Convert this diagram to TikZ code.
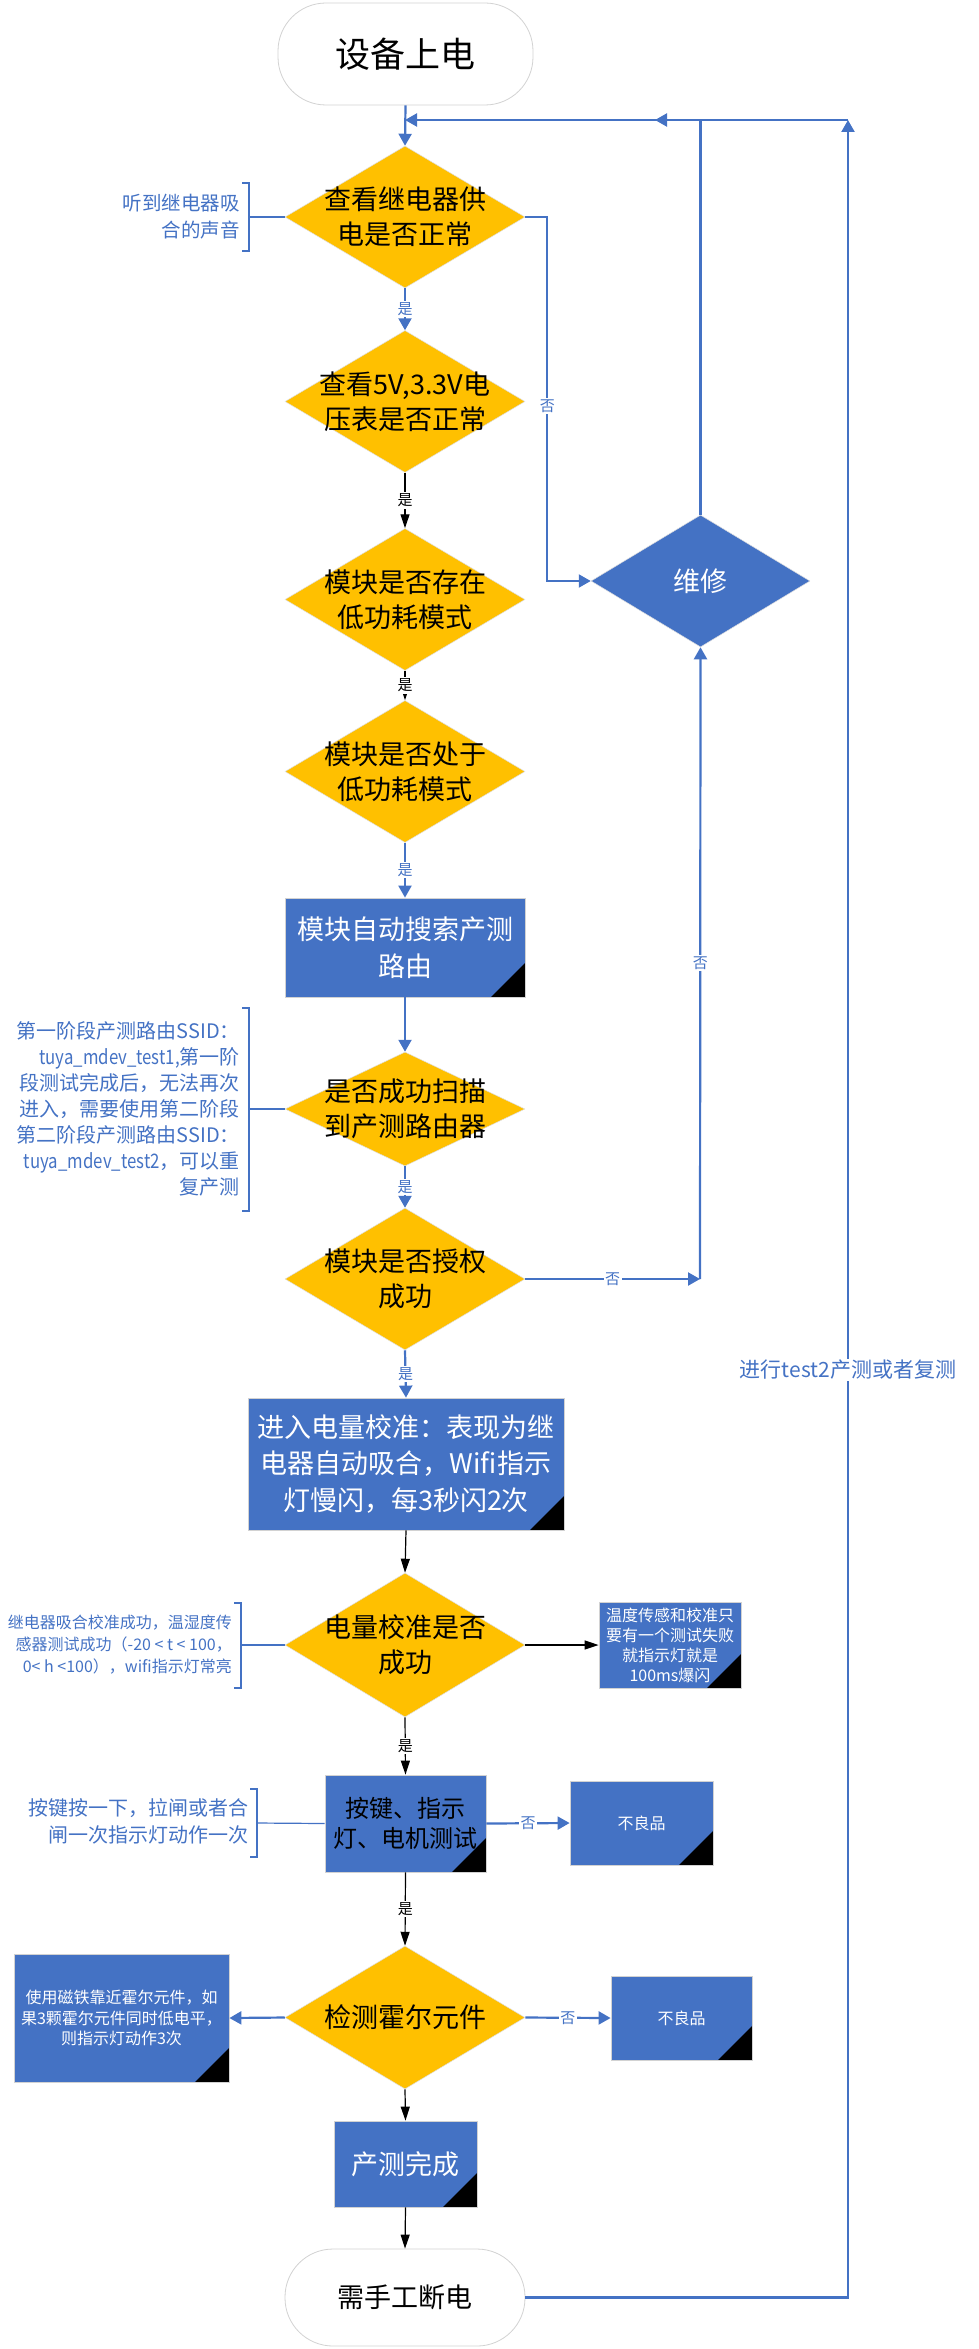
\documentclass[tikz,border=0pt]{standalone}
\usepackage{fontspec}
\setmainfont{Noto Sans CJK SC}
\newfontfamily\narrowfont[FakeStretch=0.84]{Noto Sans CJK SC}
\usetikzlibrary{shapes.geometric, arrows.meta, positioning}

\definecolor{boxblue}{HTML}{4472C4}
\definecolor{diayellow}{HTML}{FFC000}

\tikzset{
  decision/.style={diamond, fill=diayellow, draw=gray!25, line width=0.5pt, aspect=1.7,
    minimum width=240pt, minimum height=142pt, inner sep=-18pt, align=center,
    font=\fontsize{27}{35}\selectfont},
  docbox/.style={rectangle, fill=boxblue, draw=gray!35, line width=0.8pt, text=white, align=center,
    path picture={\fill[black] ([xshift=-34pt]path picture bounding box.south east)
      -- (path picture bounding box.south east)
      -- ([yshift=34pt]path picture bounding box.south east) -- cycle;}},
  terminal/.style={rectangle, rounded corners=48pt, draw=gray!35, line width=0.8pt, fill=white, align=center},
  bline/.style={draw=boxblue, line width=2.2pt, -{Triangle[width=13pt,length=12pt]}},
  kline/.style={draw=black, line width=1.2pt, -{Triangle[width=9pt,length=14pt]}},
  ylabel/.style={fill=white, inner sep=1.5pt, text=boxblue, font=\fontsize{15}{15}\selectfont},
  note/.style={text=boxblue, align=right, anchor=east, inner sep=0pt},
  notebrk/.style={draw=boxblue, line width=1.2pt},
}

\begin{document}
\begin{tikzpicture}[x=1pt, y=-1pt]
  \useasboundingbox (0,0) rectangle (978,2349);

  % start and end
  \node[terminal, minimum width=255pt, minimum height=102pt, font=\fontsize{35}{40}\selectfont] (start) at (405.5,54) {设备上电};
  \node[terminal, minimum width=240pt, minimum height=97pt, font=\fontsize{27}{32}\selectfont] (stop) at (405,2297.5) {需手工断电};

  % main column
  \node[decision] (d1) at (405,217) {查看继电器供\\电是否正常};
  \node[decision] (d2) at (405,401.5) {查看5V,3.3V电\\压表是否正常};
  \node[decision] (d3) at (405,599.5) {模块是否存在\\低功耗模式};
  \node[decision] (d4) at (405,771.5) {模块是否处于\\低功耗模式};
  \node[docbox, minimum width=240pt, minimum height=99pt, font=\fontsize{27}{37}\selectfont] (search) at (405,947.5) {模块自动搜索产测\\路由};
  \node[decision, minimum height=114pt, aspect=2.1] (d5) at (405,1109) {是否成功扫描\\到产测路由器};
  \node[decision] (d6) at (405,1279) {模块是否授权\\成功};
  \node[docbox, minimum width=316pt, minimum height=132pt, font=\fontsize{27}{36.5}\selectfont] (calib) at (406,1464) {进入电量校准：表现为继\\电器自动吸合，Wifi指示\\灯慢闪，每3秒闪2次};
  \node[decision, minimum height=144pt] (d7) at (405,1645) {电量校准是否\\成功};
  \node[docbox, text=black, minimum width=161pt, minimum height=97pt, font=\fontsize{24}{30}\selectfont] (keys) at (405.5,1823.5) {按键、指示\\灯、电机测试};
  \node[decision, minimum height=143pt] (d8) at (405,2017.5) {检测霍尔元件};
  \node[docbox, minimum width=143pt, minimum height=86pt, font=\fontsize{27}{32}\selectfont] (done) at (405.5,2164) {产测完成};

  % side boxes
  \node[decision, fill=boxblue, text=white, inner sep=0pt, minimum width=219pt, minimum height=132pt] (repair) at (700.5,581) {维修};
  \node[docbox, minimum width=142pt, minimum height=86pt, font=\fontsize{16}{20}\selectfont] (flash) at (670,1645) {温度传感和校准只\\要有一个测试失败\\就指示灯就是\\100ms爆闪};
  \node[docbox, minimum width=143pt, minimum height=84pt, font=\fontsize{16}{20}\selectfont] (bad1) at (641.5,1823) {不良品};
  \node[docbox, minimum width=215pt, minimum height=128pt, font=\fontsize{16}{20.5}\selectfont] (hall) at (121.5,2018) {使用磁铁靠近霍尔元件，如\\果3颗霍尔元件同时低电平，\\则指示灯动作3次};
  \node[docbox, minimum width=141pt, minimum height=84pt, font=\fontsize{16}{20}\selectfont] (bad2) at (681.5,2018) {不良品};

  % notes on the left
  \node[note, font=\fontsize{19.5}{27}\selectfont] (n1) at (240,217) {听到继电器吸\\合的声音};
  \draw[notebrk] (242,183) -- (249,183) -- (249,251) -- (242,251);
  \coordinate (b1) at (249,217);
  \draw[notebrk] (b1) -- (d1.west);

  \node[note, font=\fontsize{20}{26}\selectfont] (n2) at (240,1109) {第一阶段产测路由SSID：\\{\narrowfont tuya\_mdev\_test1,}第一阶\\段测试完成后，无法再次\\进入，需要使用第二阶段\\第二阶段产测路由SSID：\\{\narrowfont tuya\_mdev\_test2}，可以重\\复产测};
  \draw[notebrk] (242,1008) -- (249,1008) -- (249,1211) -- (242,1211);
  \coordinate (b2) at (249,1109);
  \draw[notebrk] (b2) -- (d5.west);

  \node[note, font=\fontsize{16}{22}\selectfont] (n3) at (232,1645) {继电器吸合校准成功，温湿度传\\感器测试成功（-20 < t < 100，\\0< h <100），wifi指示灯常亮};
  \draw[notebrk] (234,1603) -- (241,1603) -- (241,1688) -- (234,1688);
  \coordinate (b3) at (241,1645);
  \draw[notebrk] (b3) -- (d7.west);

  \node[note, font=\fontsize{20}{27}\selectfont] (n4) at (249,1821.5) {按键按一下，拉闸或者合\\闸一次指示灯动作一次};
  \draw[notebrk] (250,1789) -- (257,1789) -- (257,1857) -- (250,1857);
  \coordinate (b4) at (257,1823);
  \draw[notebrk] (b4) -- (keys.west);

  % connectors
  \draw[bline] (start.south) -- (d1.north);
  \draw[bline] (d1.south) -- node[ylabel] {是} (d2.north);
  \draw[bline] (d1.east) -- ++(22,0) |- node[ylabel, pos=0.26] {否} (repair.west);
  \draw[kline] (d2.south) -- node[ylabel, text=black] {是} (d3.north);
  \draw[kline] (d3.south) -- node[ylabel, text=black] {是} (d4.north);
  \draw[bline] (d4.south) -- node[ylabel] {是} (search.north);
  \draw[bline] (search.south) -- (d5.north);
  \draw[bline] (d5.south) -- node[ylabel] {是} (d6.north);
  \coordinate (rj) at (700,1279);
  \draw[bline] (d6.east) -- node[ylabel] {否} (rj);
  \draw[bline] (rj) -- node[ylabel] {否} (repair.south);
  \draw[bline] (d6.south) -- node[ylabel] {是} (calib.north);
  \draw[kline] (calib.south) -- (d7.north);
  \draw[kline] (d7.east) -- (flash.west);
  \draw[kline] (d7.south) -- node[ylabel, text=black] {是} (keys.north);
  \draw[bline] (keys.east) -- node[ylabel] {否} (bad1.west);
  \draw[kline] (keys.south) -- node[ylabel, text=black] {是} (d8.north);
  \draw[bline] (d8.west) -- (hall.east);
  \draw[bline] (d8.east) -- node[ylabel] {否} (bad2.west);
  \draw[kline] (d8.south) -- (done.north);
  \draw[kline] (done.south) -- (stop.north);

  % loops back to the top
  \coordinate (ltop) at (405,120);
  \coordinate (mtop) at (655,120);
  \coordinate (rtop) at (848,120);
  \draw[bline] (repair.north) |- (mtop);
  \draw[bline] (stop.east) -| node[ylabel, pos=0.713, font=\fontsize{21}{21}\selectfont] {进行test2产测或者复测} (rtop);
  \draw[bline] (rtop) -- (ltop);
\end{tikzpicture}
\end{document}
